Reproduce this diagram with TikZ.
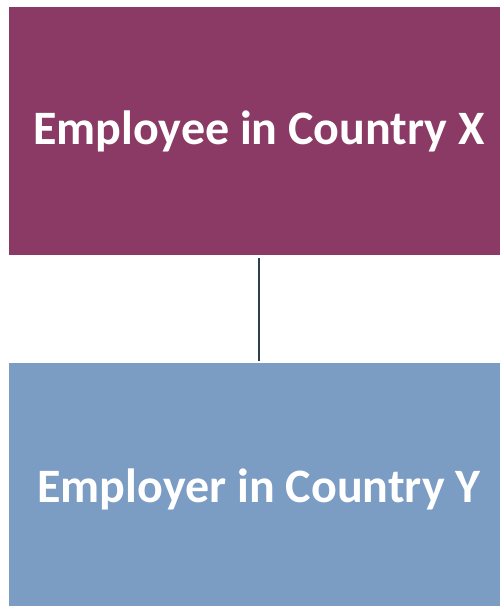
\documentclass[tikz,border=0pt]{standalone}
\usepackage{fontspec}
\setmainfont{Carlito}
\usetikzlibrary{positioning}
\definecolor{employeecol}{HTML}{8A3A64}
\definecolor{employercol}{HTML}{7B9CC3}
\definecolor{linkcol}{HTML}{2F3F4F}
\tikzset
{
  partybox/.style = {rectangle, draw=none, align=center, text=white, minimum width=500pt, inner sep=0pt, font=\fontsize{48}{56}\selectfont\bfseries},
  partylink/.style = {draw=linkcol, line width=2.5pt}
}

\begin{document}
\begin{tikzpicture}[x=1pt,y=1pt]
  \useasboundingbox (0,0) rectangle (500,-606);
  \node [partybox, fill=employeecol, minimum height=248pt] (employee) at (259,-131) {Employee in Country X};
  \node [partybox, fill=employercol, minimum height=252pt] (employer) at (259,-489) {Employer in Country Y};
  \draw [partylink] ([yshift=-3pt]employee.south) -- ([yshift=2pt]employer.north);
\end{tikzpicture}
\end{document}
